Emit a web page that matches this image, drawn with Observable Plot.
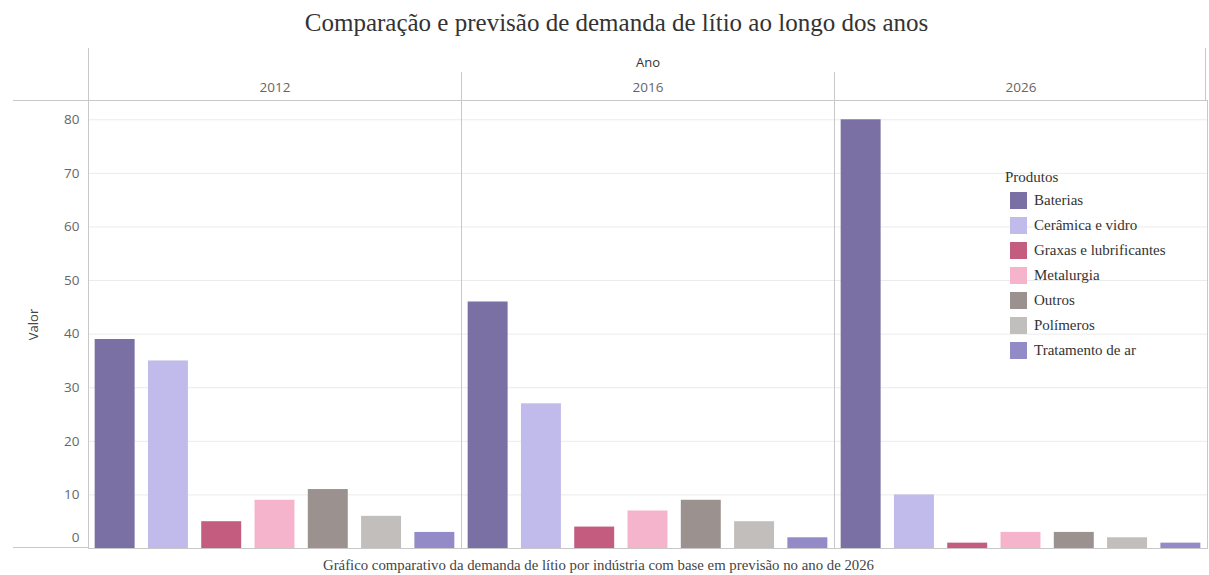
<!DOCTYPE html>
<html><head><meta charset="utf-8">
<script src="https://cdn.jsdelivr.net/npm/d3@7"></script>
<script src="https://cdn.jsdelivr.net/npm/@observablehq/plot@0.6"></script>
<style>
body{margin:0;background:#fff;width:1209px;height:575px;overflow:hidden;position:relative;}
#title{position:absolute;top:0;left:12px;width:1209px;height:40px;line-height:46px;text-align:center;font-family:"Liberation Serif",serif;font-size:25px;color:#333;}
#chart{position:absolute;top:40px;left:0;}
#caption{position:absolute;top:555px;left:-6px;width:1209px;height:20px;line-height:20px;text-align:center;font-family:"Liberation Serif",serif;font-size:14.8px;color:#444;}
#legend{position:absolute;left:1005px;top:167px;font-family:"Liberation Serif",serif;font-size:15px;color:#333;}
#legend .t{height:20px;line-height:20px;margin-bottom:1px;}
#legend .r{display:flex;align-items:center;height:25px;margin-left:5px;}
#legend .s{width:17px;height:17px;margin-right:7px;}
</style>
</head><body>
<div id="title">Comparação e previsão de demanda de lítio ao longo dos anos</div>
<div id="chart"></div>
<div id="legend"></div>
<div id="caption">Gráfico comparativo da demanda de lítio por indústria com base em previsão no ano de 2026</div>
<script>
const anos = ["2012", "2016", "2026"];
const produtos = ["Baterias", "Cerâmica e vidro", "Graxas e lubrificantes", "Metalurgia", "Outros", "Polímeros", "Tratamento de ar"];
const valores2012 = [39, 35, 5, 9, 11, 6, 3];
const valores2016 = [46, 27, 4, 7, 9, 5, 2];
const valores2026 = [80, 10, 1, 3, 3, 2, 1];
const cores = ["#7a70a4", "#c0bbea", "#c45c80", "#f6b4cc", "#9b918e", "#c2bebc", "#938bc8"];
const yTicks = [0, 10, 20, 30, 40, 50, 60, 70, 80];

const series = [valores2012, valores2016, valores2026];
const data = [];
anos.forEach((a, i) => produtos.forEach((p, j) => data.push({ano: a, produto: p, valor: series[i][j]})));

const chart = Plot.plot({
  width: 1209, height: 515,
  marginTop: 60, marginBottom: 7, marginLeft: 88, marginRight: 2,
  style: {fontFamily: "'Open Sans', sans-serif", fontSize: "13px", color: "#666", background: "transparent"},
  fx: {domain: anos, padding: 0, round: false},
  x: {domain: produtos, paddingInner: 0.25, paddingOuter: 0.125, round: false, axis: null},
  y: {domain: [0, 83.6]},
  color: {domain: produtos, range: cores},
  marks: [
    Plot.gridY(yTicks.slice(1), {stroke: "#ebebeb", strokeOpacity: 1}),
    Plot.barY(data, {fx: "ano", x: "produto", y: "valor", fill: "produto"}),
    Plot.frame({stroke: "#c8c8c8"}),
    Plot.axisY(yTicks.slice(1), {tickSize: 0, tickPadding: 9, label: null, fontSize: 13.5}),
    Plot.axisY([yTicks[0]], {tickSize: 0, tickPadding: 9, label: null, dy: -11, fontSize: 13.5}),
    Plot.axisY({ticks: [], tickSize: 0, label: "Valor", labelAnchor: "center", labelArrow: "none", labelOffset: 60, fill: "#444", fontSize: 13}),
    Plot.axisFx({anchor: "top", tickSize: 0, tickPadding: 9, label: null, fontSize: 13.5, style: {letterSpacing: "1px"}}),
    Plot.axisFx({anchor: "top", ticks: [], tickSize: 0, label: "Ano", labelAnchor: "center", labelArrow: "none", labelOffset: 43, fill: "#333", fontSize: 13})
  ]
});
document.getElementById("chart").appendChild(chart);

// decorative header/baseline extensions using Plot's own scales
const svg = d3.select(chart);
const fx = chart.scale("fx");
const y = chart.scale("y");
const yTop = y.apply(83.6), yBase = y.apply(0);
const g = svg.append("g").attr("stroke", "#c8c8c8");
g.append("line").attr("x1", 13).attr("x2", fx.apply(anos[0])).attr("y1", yTop + 0.5).attr("y2", yTop + 0.5);
g.append("line").attr("x1", 13).attr("x2", fx.apply(anos[0])).attr("y1", yBase - 0.5).attr("y2", yBase - 0.5);
anos.forEach((a, i) => {
  const x = Math.round(fx.apply(a)) + 0.5;
  g.append("line").attr("x1", x).attr("x2", x).attr("y1", i === 0 ? 8 : 32).attr("y2", yTop);
});
const xr = Math.round(fx.apply(anos[anos.length - 1]) + fx.bandwidth) - 1.5;
g.append("line").attr("x1", xr).attr("x2", xr).attr("y1", 8).attr("y2", yTop);

// legend
const leg = d3.select("#legend");
leg.append("div").attr("class", "t").text("Produtos");
produtos.forEach((p, i) => {
  const r = leg.append("div").attr("class", "r");
  r.append("div").attr("class", "s").style("background", cores[i]);
  r.append("span").text(p);
});
</script>
</body></html>
